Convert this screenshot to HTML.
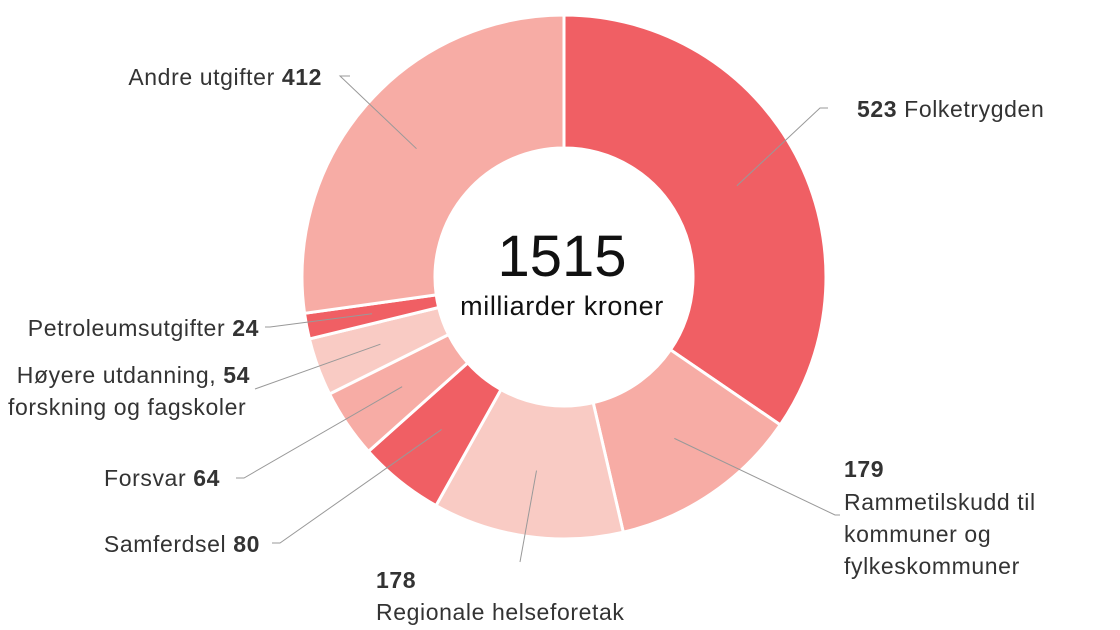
<!DOCTYPE html>
<html><head><meta charset="utf-8"><style>
html,body{margin:0;padding:0;background:#fff;}
svg{display:block;font-family:"Liberation Sans",sans-serif;}
</style></head><body>
<svg id="chart" width="1120" height="630">
<g id="slices"></g>
<g id="lines"></g>
<g>
<text x="562" y="276" text-anchor="middle" font-size="58" fill="#111">1515</text>
<text x="562" y="315" text-anchor="middle" font-size="27" letter-spacing="0.6" fill="#111">milliarder kroner</text>
</g>
<g id="labels" font-size="23" letter-spacing="0.6" fill="#333">
<text x="857" y="117"><tspan font-weight="bold">523</tspan>   Folketrygden</text>
<text x="844" y="477" font-weight="bold">179</text>
<text x="844" y="510">Rammetilskudd til</text>
<text x="844" y="542">kommuner og</text>
<text x="844" y="574">fylkeskommuner</text>
<text x="376" y="588" font-weight="bold">178</text>
<text x="376" y="620">Regionale helseforetak</text>
<text x="260" y="552" text-anchor="end">Samferdsel  <tspan font-weight="bold">80</tspan></text>
<text x="220" y="486" text-anchor="end">Forsvar  <tspan font-weight="bold">64</tspan></text>
<text x="250" y="383" text-anchor="end">Høyere utdanning,  <tspan font-weight="bold">54</tspan></text>
<text x="8" y="415">forskning og fagskoler</text>
<text x="259" y="336" text-anchor="end">Petroleumsutgifter  <tspan font-weight="bold">24</tspan></text>
<text x="322" y="85" text-anchor="end">Andre utgifter  <tspan font-weight="bold">412</tspan></text>
</g>
</svg>
<script>
const categories=["Folketrygden","Rammetilskudd","Regionale helseforetak","Samferdsel","Forsvar","Høyere utdanning","Petroleumsutgifter","Andre utgifter"];
const values=[523,179,178,80,64,54,24,412];
const colors=["#f05f64","#f7aca5","#f9cbc4","#f05f64","#f7aca5","#f9cbc4","#f05f64","#f7aca5"];
const leaderEnds=[[820,108,828,108],[835,515,840,515],[520,562,520,562],[280,543,272,543],[244,478,236,478],[255,389,255,389],[270,327,265,327],[340,76,350,76]];
const cx=564,cy=277,R=262,r=129;
const ns="http://www.w3.org/2000/svg";
const total=values.reduce((a,b)=>a+b,0);
function angle(v){return v/total*2*Math.PI;}
function pt(a,rad){return [cx+rad*Math.sin(a),cy-rad*Math.cos(a)];}
let acc=0;
const gs=document.getElementById('slices'),gl=document.getElementById('lines');
values.forEach((v,i)=>{
 const a0=angle(acc),a1=angle(acc+v);acc+=v;
 const [x0,y0]=pt(a0,R),[x1,y1]=pt(a1,R),[x2,y2]=pt(a1,r),[x3,y3]=pt(a0,r);
 const lg=(a1-a0)>Math.PI?1:0;
 const p=document.createElementNS(ns,'path');
 p.setAttribute('d',`M${x0},${y0}A${R},${R} 0 ${lg} 1 ${x1},${y1}L${x2},${y2}A${r},${r} 0 ${lg} 0 ${x3},${y3}Z`);
 p.setAttribute('fill',colors[i]);p.setAttribute('stroke','#fff');p.setAttribute('stroke-width','3');
 
 
 gs.appendChild(p);
 const am=(a0+a1)/2;const [mx,my]=pt(am,(R+r)/2);
 const e=leaderEnds[i];
 const l=document.createElementNS(ns,'polyline');
 l.setAttribute('points',`${mx},${my} ${e[0]},${e[1]} ${e[2]},${e[3]}`);
 l.setAttribute('fill','none');l.setAttribute('stroke','#999');l.setAttribute('stroke-width','1');
 
 
 gl.appendChild(l);
});
</script>
</body></html>
